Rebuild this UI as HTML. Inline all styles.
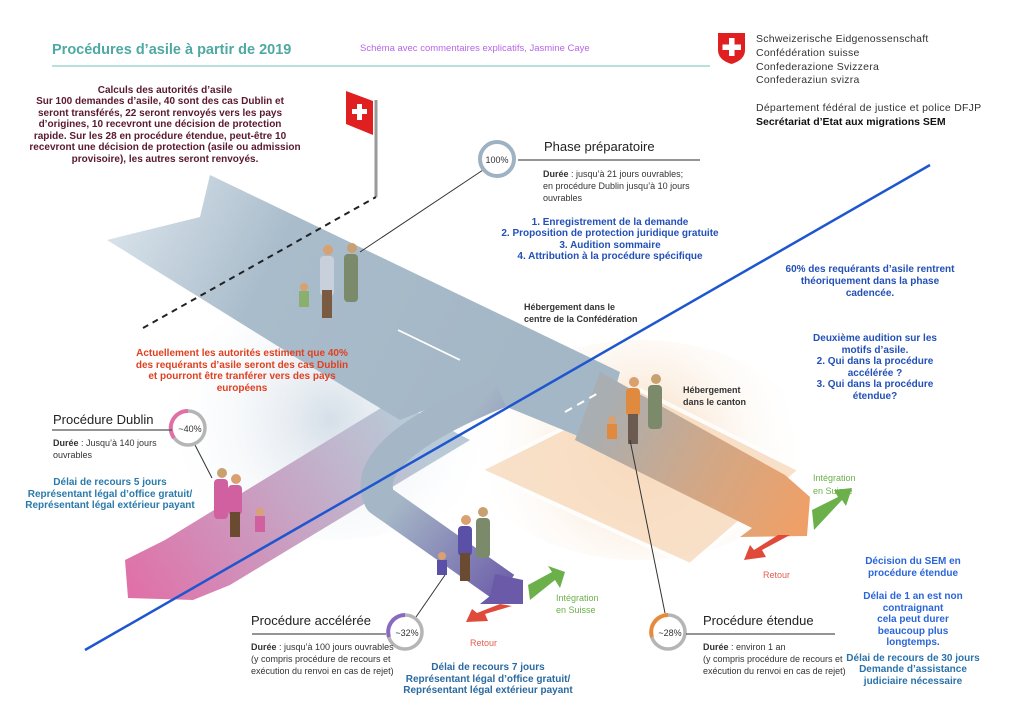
<!DOCTYPE html>
<html><head><meta charset="utf-8"><style>
html,body{margin:0;padding:0;background:#fff}
svg{display:block}
text{font-family:"Liberation Sans",sans-serif}
</style></head><body>
<svg width="1024" height="723" viewBox="0 0 1024 723" xmlns="http://www.w3.org/2000/svg">
<defs>
<linearGradient id="pk" x1="400" y1="420" x2="130" y2="590" gradientUnits="userSpaceOnUse"><stop offset="0" stop-color="#b9c9d6"/><stop offset="0.45" stop-color="#c7a3c4"/><stop offset="1" stop-color="#e070a8"/></linearGradient>
<linearGradient id="pu" x1="400" y1="500" x2="515" y2="595" gradientUnits="userSpaceOnUse"><stop offset="0" stop-color="#a5b6c6"/><stop offset="1" stop-color="#6a5aa8"/></linearGradient>
<linearGradient id="or" x1="600" y1="410" x2="800" y2="520" gradientUnits="userSpaceOnUse"><stop offset="0" stop-color="#a8aeb2"/><stop offset="0.5" stop-color="#d0a888"/><stop offset="1" stop-color="#eea068"/></linearGradient>
<linearGradient id="gb" x1="107" y1="200" x2="500" y2="400" gradientUnits="userSpaceOnUse"><stop offset="0" stop-color="#dde6ed"/><stop offset="0.4" stop-color="#a9bccb"/><stop offset="1" stop-color="#a4b7c6"/></linearGradient>
<radialGradient id="pe" cx="640" cy="450" r="170" gradientUnits="userSpaceOnUse"><stop offset="0" stop-color="#f5d3b0"/><stop offset="1" stop-color="#fff" stop-opacity="0"/></radialGradient>
<radialGradient id="lg" cx="330" cy="420" r="170" gradientUnits="userSpaceOnUse"><stop offset="0" stop-color="#d5dfe8"/><stop offset="1" stop-color="#fff" stop-opacity="0"/></radialGradient>
</defs>

<ellipse cx="330" cy="420" rx="180" ry="120" fill="url(#lg)"/>
<ellipse cx="640" cy="450" rx="170" ry="110" fill="url(#pe)"/>
<polygon points="480,470 640,390 800,470 690,565" fill="#f8dcc0" opacity="0.85" stroke="#fff" stroke-width="4"/>

<!-- Dublin branch -->
<polygon points="394,400 470,440 230,585 193,600 128,598 125,560 165,540" fill="url(#pk)"/>
<!-- main gray road -->
<polygon points="107,240 200,217 210,175 620,372 600,445 470,392 400,420 300,360" fill="url(#gb)"/>
<!-- accelerated branch -->
<path d="M500 392 C 430 420, 360 460, 380 500 L 505 588" fill="none" stroke="url(#pu)" stroke-width="32" stroke-linejoin="round"/>
<polygon points="495,574 523,580 523,604 480,604 490,596" fill="#6a5aa8"/>
<!-- orange branch -->
<polygon points="600,372 785,475 810,497 807,536 740,537 752,528 575,440" fill="url(#or)"/>
<!-- road dashes -->
<line x1="398" y1="330" x2="460" y2="360" stroke="#fff" stroke-width="1.8"/>
<line x1="565" y1="412" x2="600" y2="392" stroke="#fff" stroke-width="2" stroke-dasharray="8,6"/>

<!-- arrows extended -->
<polygon points="812,510 838,497 834,490 852,488 846,506 842,500 814,530" fill="#6bb04a"/>
<polygon points="790,535 762,550 766,557 744,560 750,545 754,550 778,535" fill="#e04a3a"/>
<text x="813" y="481" font-size="9" fill="#6bb04a">Intégration</text>
<text x="813" y="494" font-size="9" fill="#6bb04a">en Suisse</text>
<text x="763" y="578" font-size="9" fill="#e06050">Retour</text>
<!-- arrows accelerated -->
<polygon points="528,585 552,572 548,566 565,572 560,588 555,580 530,600" fill="#6bb04a"/>
<polygon points="512,606 485,614 488,621 466,622 472,609 477,613 500,604" fill="#e04a3a"/>
<text x="556" y="601" font-size="9" fill="#6bb04a">Intégration</text>
<text x="556" y="613" font-size="9" fill="#6bb04a">en Suisse</text>
<text x="470" y="646" font-size="9" fill="#e06050">Retour</text>

<!-- people (simplified) -->
<g>
<circle cx="328" cy="250" r="5" fill="#d9a070"/><rect x="320" y="256" width="14" height="40" rx="4" fill="#c8d0dc"/><rect x="322" y="290" width="10" height="28" fill="#7a5a40"/>
<circle cx="352" cy="248" r="5" fill="#c9a070"/><rect x="344" y="254" width="14" height="48" rx="4" fill="#7a8a6a"/>
<circle cx="304" cy="287" r="4" fill="#d9a070"/><rect x="299" y="291" width="10" height="16" fill="#8ab070"/>
</g>
<g>
<circle cx="222" cy="473" r="5" fill="#c9a070"/><rect x="214" y="479" width="14" height="40" rx="4" fill="#d060a0"/>
<circle cx="236" cy="479" r="5" fill="#d9a070"/><rect x="228" y="485" width="14" height="30" rx="4" fill="#d060a0"/><rect x="230" y="512" width="10" height="25" fill="#6a4a30"/>
<circle cx="260" cy="512" r="4" fill="#d9a070"/><rect x="255" y="516" width="10" height="16" fill="#d060a0"/>
</g>
<g>
<circle cx="466" cy="520" r="5" fill="#d9a070"/><rect x="458" y="526" width="14" height="30" rx="4" fill="#5a50a8"/><rect x="460" y="553" width="10" height="28" fill="#6a4a30"/>
<circle cx="483" cy="512" r="5" fill="#c9a070"/><rect x="476" y="518" width="14" height="40" rx="4" fill="#7a8a6a"/>
<circle cx="442" cy="556" r="4" fill="#d9a070"/><rect x="437" y="560" width="10" height="15" fill="#5a50a8"/>
</g>
<g>
<circle cx="634" cy="382" r="5" fill="#d9a070"/><rect x="626" y="388" width="14" height="28" rx="4" fill="#e08a40"/><rect x="628" y="414" width="10" height="30" fill="#6a5a50"/>
<circle cx="656" cy="379" r="5" fill="#c9a070"/><rect x="648" y="385" width="14" height="44" rx="4" fill="#7a8a6a"/>
<circle cx="612" cy="420" r="4" fill="#d9a070"/><rect x="607" y="424" width="10" height="15" fill="#e08a40"/>
</g>

<!-- flag -->
<line x1="376" y1="100" x2="376" y2="197" stroke="#999" stroke-width="3"/>
<polygon points="346,91 373,101 373,135 346,124" fill="#e02020"/>
<rect x="357" y="104" width="5" height="16" fill="#fff"/><rect x="352" y="109" width="15" height="5" fill="#fff"/>
<line x1="143" y1="328" x2="376" y2="197" stroke="#222" stroke-width="2" stroke-dasharray="6,5"/>

<!-- blue line -->
<line x1="85" y1="650" x2="930" y2="165" stroke="#1e56d0" stroke-width="2.5"/>

<!-- connector lines -->
<line x1="483" y1="170" x2="360" y2="252" stroke="#333" stroke-width="1"/>
<line x1="195" y1="445" x2="212" y2="478" stroke="#333" stroke-width="1"/>
<line x1="416" y1="617" x2="445" y2="575" stroke="#333" stroke-width="1"/>
<line x1="665" y1="613" x2="630" y2="440" stroke="#333" stroke-width="1"/>

<!-- circles -->
<circle cx="497" cy="159" r="17" fill="#fff" stroke="#9fb2c2" stroke-width="4"/>
<text x="497" y="163" font-size="9" text-anchor="middle" fill="#333">100%</text>
<circle cx="188" cy="428" r="17" fill="#fff" stroke="#b5b5b5" stroke-width="3.5"/>
<path d="M188 411 A17 17 0 0 0 174 438" fill="none" stroke="#e070a8" stroke-width="4"/>
<text x="190" y="432" font-size="9" text-anchor="middle" fill="#333">~40%</text>
<circle cx="405" cy="632" r="17" fill="#fff" stroke="#b5b5b5" stroke-width="3.5"/>
<path d="M405 615 A17 17 0 0 0 389 637" fill="none" stroke="#8a6ac0" stroke-width="4"/>
<text x="407" y="636" font-size="9" text-anchor="middle" fill="#333">~32%</text>
<circle cx="668" cy="632" r="17" fill="#fff" stroke="#b5b5b5" stroke-width="3.5"/>
<path d="M668 615 A17 17 0 0 0 652 637" fill="none" stroke="#e88a3a" stroke-width="4"/>
<text x="670" y="636" font-size="9" text-anchor="middle" fill="#333">~28%</text>

<!-- header -->
<text x="52" y="54" font-size="14.5" fill="#4ea9a2" font-weight="bold">Procédures d’asile à partir de 2019</text>
<text x="360" y="51" font-size="9.5" fill="#b866e8">Schéma avec commentaires explicatifs, Jasmine Caye</text>
<line x1="52" y1="66" x2="710" y2="66" stroke="#8fcfc8" stroke-width="1.2"/>
<path d="M718 33 L745 33 L745 50 Q745 60 731.5 64 Q718 60 718 50 Z" fill="#e02020"/>
<rect x="729" y="38" width="5.5" height="18" fill="#fff"/><rect x="722.5" y="44.5" width="18.5" height="5.5" fill="#fff"/>
<g font-size="10.5" fill="#333" letter-spacing="0.25">
<text x="756" y="42">Schweizerische Eidgenossenschaft</text>
<text x="756" y="56">Confédération suisse</text>
<text x="756" y="70">Confederazione Svizzera</text>
<text x="756" y="83">Confederaziun svizra</text>
<text x="756" y="111">Département fédéral de justice et police DFJP</text>
<text x="756" y="125" font-weight="bold" fill="#111" letter-spacing="0">Secrétariat d’Etat aux migrations SEM</text>
</g>

<!-- left maroon text -->
<g font-size="10" font-weight="bold" fill="#5a1830" text-anchor="middle">
<text x="165" y="93">Calculs des autorités d’asile</text>
<text x="160" y="104">Sur 100 demandes d’asile, 40 sont des cas Dublin et</text>
<text x="160" y="116">seront transférés, 22 seront renvoyés vers les pays</text>
<text x="160" y="127">d’origines, 10 recevront une décision de protection</text>
<text x="160" y="139">rapide. Sur les 28  en procédure étendue, peut-être 10</text>
<text x="165" y="150">recevront une décision de protection (asile ou admission</text>
<text x="165" y="162">provisoire), les autres seront renvoyés.</text>
</g>

<!-- phase préparatoire -->
<text x="544" y="151" font-size="13" fill="#222">Phase préparatoire</text>
<line x1="518" y1="160" x2="700" y2="160" stroke="#555" stroke-width="1.2"/>
<g font-size="9" fill="#333"><text x="543" y="177"><tspan font-weight="bold">Durée</tspan> : jusqu’à 21 jours ouvrables;</text><text x="543" y="189">en procédure Dublin jusqu’à 10 jours</text><text x="543" y="201">ouvrables</text></g>
<g font-size="10" font-weight="bold" fill="#2250b8" text-anchor="middle">
<text x="610" y="225">1. Enregistrement de la demande</text>
<text x="610" y="236">2. Proposition de protection juridique gratuite</text>
<text x="610" y="248">3. Audition sommaire</text>
<text x="610" y="259">4. Attribution à la procédure spécifique</text>
</g>
<g font-size="9" font-weight="bold" fill="#333"><text x="524" y="310">Hébergement dans le</text><text x="524" y="322">centre de la Confédération</text>
<text x="683" y="393">Hébergement</text><text x="683" y="405">dans le canton</text></g>

<g font-size="10" font-weight="bold" fill="#2250b8" text-anchor="middle">
<text x="870" y="272">60% des requérants d’asile rentrent</text>
<text x="870" y="284">théoriquement dans la phase</text>
<text x="870" y="296">cadencée.</text>
<text x="875" y="341">Deuxième audition sur les</text>
<text x="875" y="353">motifs d’asile.</text>
<text x="875" y="364">2. Qui dans la procédure</text>
<text x="875" y="376">accélérée ?</text>
<text x="875" y="387">3. Qui dans la procédure</text>
<text x="875" y="399">étendue?</text>
</g>

<g font-size="10" font-weight="bold" fill="#e04020" text-anchor="middle">
<text x="242" y="356">Actuellement les autorités estiment que 40%</text>
<text x="242" y="368">des requérants d’asile seront des cas Dublin</text>
<text x="242" y="379">et pourront être tranférer vers des pays</text>
<text x="242" y="391">européens</text>
</g>

<!-- Dublin -->
<text x="53" y="424" font-size="13" fill="#222">Procédure Dublin</text>
<line x1="52" y1="430" x2="172" y2="430" stroke="#555" stroke-width="1.2"/>
<g font-size="9" fill="#333"><text x="53" y="446"><tspan font-weight="bold">Durée</tspan> : Jusqu’à 140 jours</text><text x="53" y="458">ouvrables</text></g>
<g font-size="10" font-weight="bold" fill="#2a7aaa" text-anchor="middle">
<text x="110" y="485">Délai de recours 5 jours</text>
<text x="110" y="497">Représentant légal d’office gratuit/</text>
<text x="110" y="508">Représentant légal extérieur payant</text>
</g>

<!-- accélérée -->
<text x="251" y="625" font-size="13" fill="#222">Procédure accélérée</text>
<line x1="252" y1="634" x2="386" y2="634" stroke="#555" stroke-width="1.2"/>
<g font-size="9" fill="#333"><text x="251" y="650"><tspan font-weight="bold">Durée</tspan> : jusqu’à 100 jours ouvrables</text><text x="251" y="662">(y compris procédure de recours et</text><text x="251" y="674">exécution du renvoi en cas de rejet)</text></g>
<g font-size="10" font-weight="bold" fill="#2a6aa0" text-anchor="middle">
<text x="488" y="670">Délai de recours 7 jours</text>
<text x="488" y="682">Représentant légal d’office gratuit/</text>
<text x="488" y="693">Représentant légal extérieur payant</text>
</g>

<!-- étendue -->
<text x="703" y="625" font-size="13" fill="#222">Procédure étendue</text>
<line x1="686" y1="634" x2="835" y2="634" stroke="#555" stroke-width="1.2"/>
<g font-size="9" fill="#333"><text x="703" y="650"><tspan font-weight="bold">Durée</tspan> : environ 1 an</text><text x="703" y="662">(y compris procédure de recours et</text><text x="703" y="674">exécution du renvoi en cas de rejet)</text></g>
<g font-size="10" font-weight="bold" fill="#2a66d8" text-anchor="middle">
<text x="913" y="564">Décision du SEM en</text>
<text x="913" y="576">procédure étendue</text>
<text x="913" y="599">Délai de 1 an est non</text>
<text x="913" y="611">contraignant</text>
<text x="913" y="622">cela peut durer</text>
<text x="913" y="634">beaucoup plus</text>
<text x="913" y="645">longtemps.</text>
</g>
<g font-size="10" font-weight="bold" fill="#2a72aa" text-anchor="middle">
<text x="913" y="661">Délai de recours de 30 jours</text>
<text x="913" y="672">Demande d’assistance</text>
<text x="913" y="684">judiciaire nécessaire</text>
</g>
</svg>
</body></html>
